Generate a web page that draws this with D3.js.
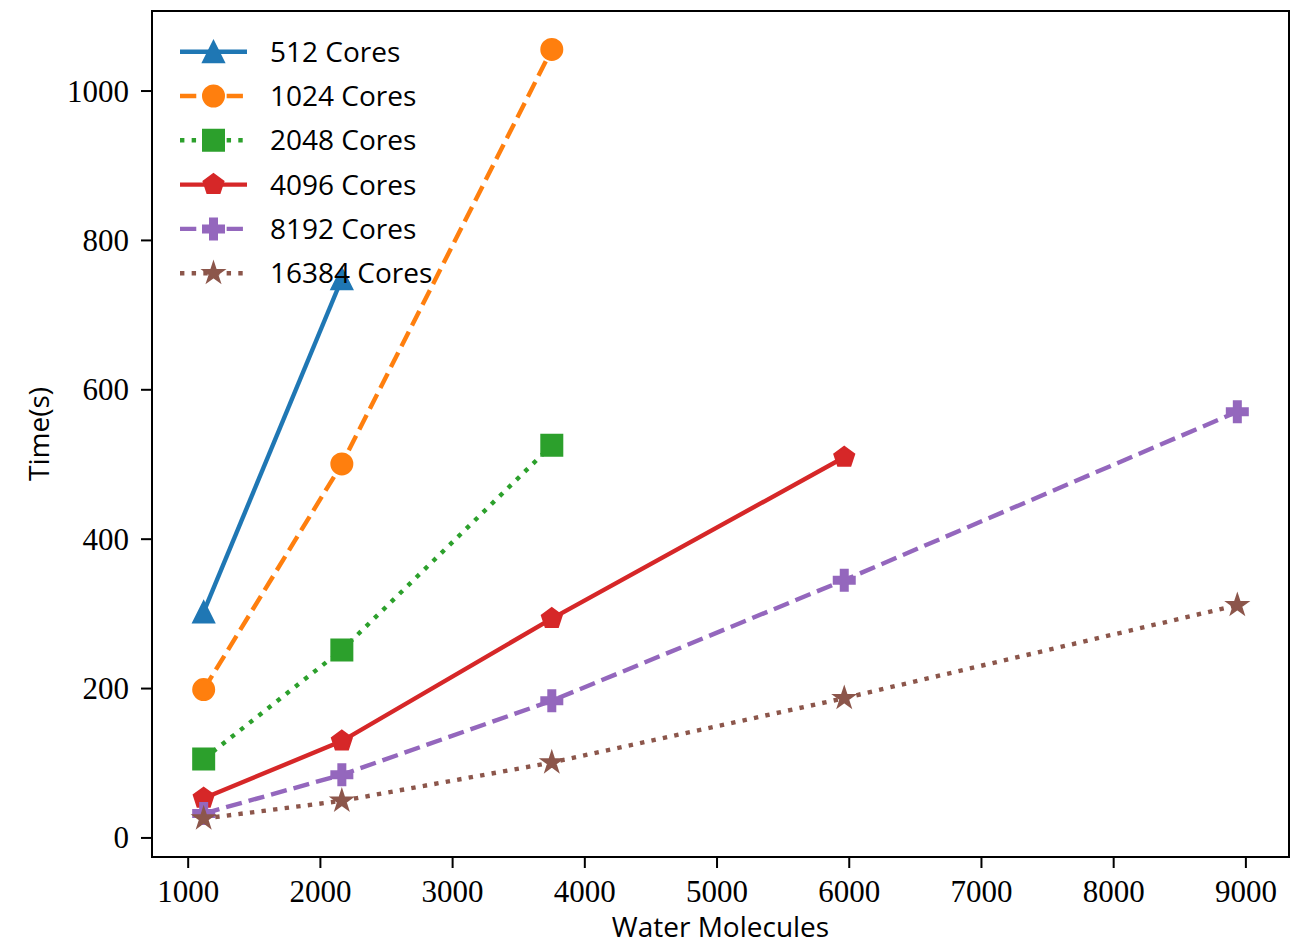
<!DOCTYPE html>
<html>
<head>
<meta charset="utf-8">
<script src="https://cdn.jsdelivr.net/npm/d3@7"></script>
<style>
  body { margin: 0; background: #fff; }
  svg { display: block; }
</style>
</head>
<body>
<div id="chart"></div>
<script>
//data
const molecules = [1121, 2166, 3754, 5966, 8939]
const seriesNames = ['512 Cores', '1024 Cores', '2048 Cores', '4096 Cores', '8192 Cores', '16384 Cores']
const time512 = [302, 748]
const time1024 = [198, 500, 1055]
const time2048 = [105, 251, 525]
const time4096 = [52.5, 129, 293, 509]
const time8192 = [32, 84, 183, 344.5, 570]
const time16384 = [25.3, 49, 100.3, 186.5, 311]
const xTicks = [1000, 2000, 3000, 4000, 5000, 6000, 7000, 8000, 9000]
const yTicks = [0, 200, 400, 600, 800, 1000]

const allTimes = [time512, time1024, time2048, time4096, time8192, time16384]
const colors = ['#1f77b4', '#ff7f0e', '#2ca02c', '#d62728', '#9467bd', '#8c564b']
const styles = ['solid', 'dashed', 'dotted', 'solid', 'dashed', 'dotted']
const markers = ['triangle', 'circle', 'square', 'pentagon', 'plus', 'star']

const W = 1307, H = 947
const plot = {left: 152, right: 1289, top: 11, bottom: 857}
const lw = 4.4, ms = 21

const series = seriesNames.map((name, i) => ({
  name: name,
  color: colors[i],
  style: styles[i],
  marker: markers[i],
  values: allTimes[i].map((t, j) => ({x: molecules[j], y: t}))
}))

//matplotlib style 5% margins
const xs = molecules, ys = allTimes.flat()
const xr = d3.max(xs) - d3.min(xs), yr = d3.max(ys) - d3.min(ys)
const x = d3.scaleLinear()
  .domain([d3.min(xs) - 0.05 * xr, d3.max(xs) + 0.05 * xr])
  .range([plot.left, plot.right])
const y = d3.scaleLinear()
  .domain([d3.min(ys) - 0.05 * yr, d3.max(ys) + 0.05 * yr])
  .range([plot.bottom, plot.top])

function dashFor(style) {
  if (style == 'dashed') return `${3.7 * lw},${1.6 * lw}`
  if (style == 'dotted') return `${1 * lw},${1.65 * lw}`
  return null
}

//marker outlines, centred on 0,0, size s
function markerPath(type, s) {
  const h = s / 2
  let pts = []
  if (type == 'circle') {
    return `M${h},0A${h},${h} 0 1,1 ${-h},0A${h},${h} 0 1,1 ${h},0Z`
  } else if (type == 'triangle') {
    pts = [[0, -h], [-h, h], [h, h]]
  } else if (type == 'square') {
    pts = [[-h, -h], [h, -h], [h, h], [-h, h]]
  } else if (type == 'pentagon') {
    for (let k = 0; k < 5; k++) {
      const a = -Math.PI / 2 + k * 2 * Math.PI / 5
      pts.push([h * Math.cos(a), h * Math.sin(a)])
    }
  } else if (type == 'star') {
    for (let k = 0; k < 10; k++) {
      const a = -Math.PI / 2 + k * Math.PI / 5
      const r = k % 2 == 0 ? h : h * 0.381966
      pts.push([r * Math.cos(a), r * Math.sin(a)])
    }
  } else if (type == 'plus') {
    const t = s / 6
    pts = [[-t, -h], [t, -h], [t, -t], [h, -t], [h, t], [t, t], [t, h], [-t, h], [-t, t], [-h, t], [-h, -t], [-t, -t]]
  }
  return 'M' + pts.map(p => p[0].toFixed(2) + ',' + p[1].toFixed(2)).join('L') + 'Z'
}

const svg = d3.select('#chart')
  .append('svg')
  .attr('width', W)
  .attr('height', H)

//x axis
const xAxis = svg.append('g')
  .attr('transform', `translate(0, ${plot.bottom})`)
  .call(d3.axisBottom(x).tickValues(xTicks).tickFormat(d3.format('d')).tickSize(11).tickPadding(12))
xAxis.select('.domain').remove()
xAxis.selectAll('line').attr('stroke', '#000').attr('stroke-width', 2)
xAxis.selectAll('text')
  .attr('font-family', '"Liberation Serif", serif')
  .attr('font-size', 31)
  .attr('fill', '#000')

//y axis
const yAxis = svg.append('g')
  .attr('transform', `translate(${plot.left}, 0)`)
  .call(d3.axisLeft(y).tickValues(yTicks).tickFormat(d3.format('d')).tickSize(11).tickPadding(12))
yAxis.select('.domain').remove()
yAxis.selectAll('line').attr('stroke', '#000').attr('stroke-width', 2)
yAxis.selectAll('text')
  .attr('font-family', '"Liberation Serif", serif')
  .attr('font-size', 31)
  .attr('fill', '#000')
  .attr('dy', '0.34em')

//axis labels
svg.append('text')
  .attr('x', (plot.left + plot.right) / 2)
  .attr('y', 937)
  .attr('text-anchor', 'middle')
  .attr('font-family', '"Open Sans", sans-serif')
  .attr('font-size', 28)
  .text('Water Molecules')

svg.append('text')
  .attr('transform', `translate(49, ${(plot.top + plot.bottom) / 2}) rotate(-90)`)
  .attr('text-anchor', 'middle')
  .attr('font-family', '"Open Sans", sans-serif')
  .attr('font-size', 28)
  .text('Time(s)')

//lines and markers
const line = d3.line().x(d => x(d.x)).y(d => y(d.y))
const groups = svg.append('g').selectAll('g')
  .data(series)
  .join('g')

groups.append('path')
  .attr('d', d => line(d.values))
  .attr('fill', 'none')
  .attr('stroke', d => d.color)
  .attr('stroke-width', lw)
  .attr('stroke-dasharray', d => dashFor(d.style))

groups.each(function(s) {
  d3.select(this).selectAll('path.mk')
    .data(s.values)
    .join('path')
    .attr('class', 'mk')
    .attr('transform', d => `translate(${x(d.x)}, ${y(d.y)})`)
    .attr('d', markerPath(s.marker, ms))
    .attr('fill', s.color)
    .attr('stroke', s.color)
    .attr('stroke-width', 2)
    .attr('stroke-linejoin', 'miter')
})

//frame
svg.append('rect')
  .attr('x', plot.left)
  .attr('y', plot.top)
  .attr('width', plot.right - plot.left)
  .attr('height', plot.bottom - plot.top)
  .attr('fill', 'none')
  .attr('stroke', '#000')
  .attr('stroke-width', 2)

//legend, no frame
const legend = svg.append('g')
const rows = legend.selectAll('g')
  .data(series)
  .join('g')
  .attr('transform', (d, i) => `translate(180, ${51.7 + i * 44.3})`)

rows.append('line')
  .attr('x1', 0).attr('x2', 67)
  .attr('stroke', d => d.color)
  .attr('stroke-width', lw)
  .attr('stroke-dasharray', d => dashFor(d.style))

rows.append('path')
  .attr('transform', 'translate(33.5, 0)')
  .attr('d', d => markerPath(d.marker, ms))
  .attr('fill', d => d.color)
  .attr('stroke', d => d.color)
  .attr('stroke-width', 2)

rows.append('text')
  .attr('x', 90)
  .attr('y', 10)
  .attr('font-family', '"Open Sans", sans-serif')
  .attr('font-size', 28)
  .text(d => d.name)
</script>
</body>
</html>
